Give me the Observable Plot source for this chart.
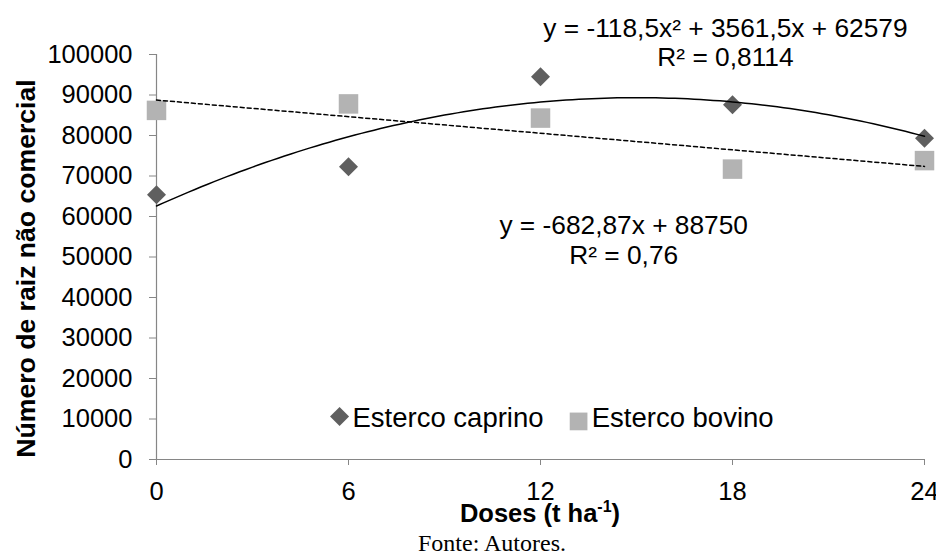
<!DOCTYPE html>
<html><head><meta charset="utf-8">
<script src="https://cdn.jsdelivr.net/npm/d3@7"></script>
<script src="https://cdn.jsdelivr.net/npm/@observablehq/plot@0.6"></script>
<style>
body{margin:0;background:#fff;}
#caption{width:936px;height:30px;line-height:30px;font-family:"Liberation Serif","Times New Roman",serif;font-size:24px;text-align:center;padding-left:48px;box-sizing:border-box;color:#000;}
</style></head><body>
<div id="chart"></div>
<div id="caption">Fonte: Autores.</div>
<script>
const doses = [0, 6, 12, 18, 24];
const caprino = [65400, 72300, 94500, 87600, 79300];
const bovino = [86200, 87800, 84300, 71700, 73800];
const seriesNames = ["Esterco caprino", "Esterco bovino"];
const seriesColors = ["#5f5f5f", "#b3b3b3"];
const quadCoef = [-118.5, 3561.5, 62579];
const linCoef = [-682.87, 88750];
const quadLabel = ["y = -118,5x² + 3561,5x + 62579", "R² = 0,8114"];
const linLabel = ["y = -682,87x + 88750", "R² = 0,76"];
const xTicks = [0, 6, 12, 18, 24];
const yTicks = [0, 10000, 20000, 30000, 40000, 50000, 60000, 70000, 80000, 90000, 100000];
const yTitle = "Número de raiz não comercial";

const capData = doses.map((d, i) => ({x: d, y: caprino[i]}));
const bovData = doses.map((d, i) => ({x: d, y: bovino[i]}));
const quadX = d3.range(0, 24.001, 0.2);
const quadData = quadX.map(x => ({x, y: quadCoef[0] * x * x + quadCoef[1] * x + quadCoef[2]}));
const linData = [0, 24].map(x => ({x, y: linCoef[0] * x + linCoef[1]}));

const annotations = [
  {text: quadLabel[0], x: 17.78, y: 106400},
  {text: quadLabel[1], x: 17.78, y: 99260},
  {text: linLabel[0], x: 14.6, y: 57780},
  {text: linLabel[1], x: 14.6, y: 50370}
];

const axisColor = "#868686";
const plot = Plot.plot({
  width: 936, height: 528,
  marginLeft: 156, marginRight: 12, marginTop: 54, marginBottom: 69,
  style: {fontFamily: "'Liberation Sans', Arial, sans-serif", fontSize: "25.5px", color: "#000", background: "#fff", overflow: "visible"},
  x: {domain: [0, 24], ticks: xTicks, tickSize: 6, tickPadding: 16, tickFormat: d => String(d), label: null},
  y: {domain: [0, 100000], ticks: yTicks, tickSize: 7, tickPadding: 17, tickFormat: d => String(d), label: null},
  marks: [
    Plot.ruleX([0], {stroke: axisColor, strokeWidth: 1.2}),
    Plot.ruleY([0], {stroke: axisColor, strokeWidth: 1.2}),
    Plot.dot(capData, {x: "x", y: "y", symbol: "diamond2", r: 8.56, fill: seriesColors[0]}),
    Plot.dot(bovData, {x: "x", y: "y", symbol: "square", r: 11, fill: seriesColors[1]}),
    Plot.line(quadData, {x: "x", y: "y", stroke: "#000", strokeWidth: 1.5, curve: "linear"}),
    Plot.line(linData, {x: "x", y: "y", stroke: "#000", strokeWidth: 1.5, strokeDasharray: "4,3"}),
    Plot.text(annotations, {x: "x", y: "y", text: "text", fontSize: 26.3, fill: "#000"}),
    // legend
    Plot.dot([seriesNames[0]], {x: 5.72, y: 10600, symbol: "diamond2", r: 8.56, fill: seriesColors[0]}),
    Plot.dot([seriesNames[1]], {x: 13.19, y: 9400, symbol: "square", r: 10, fill: seriesColors[1]}),
    Plot.text([seriesNames[0]], {x: 6.125, y: 10100, text: d => d, textAnchor: "start", fontSize: 27.5, fill: "#000"}),
    Plot.text([seriesNames[1]], {x: 13.6, y: 10100, text: d => d, textAnchor: "start", fontSize: 27.5, fill: "#000"}),
    // y title
    Plot.text([yTitle], {x: -4.06, y: 47160, text: d => d, rotate: -90, fontSize: 26.6, fontWeight: "bold", fill: "#000"})
  ]
});

// axis tick colors
plot.querySelectorAll('[aria-label$="-axis tick"]').forEach(g => {
  g.setAttribute("stroke", axisColor);
  g.querySelectorAll("path,line").forEach(p => p.setAttribute("stroke", axisColor));
});
plot.querySelectorAll('g.tick line').forEach(l => l.setAttribute("stroke", axisColor));

// x title with superscript
const sx = plot.scale("x"), sy = plot.scale("y");
const svg = d3.select(plot);
const t = svg.append("text")
  .attr("x", sx.apply(12)).attr("y", sy.apply(0) + 63)
  .attr("text-anchor", "middle").attr("font-weight", "bold").attr("font-size", 25.5).attr("fill", "#000")
  .attr("font-family", "'Liberation Sans', Arial, sans-serif");
t.append("tspan").text("Doses (t ha");
t.append("tspan").attr("font-size", 16).attr("dy", -10).text("-1");
t.append("tspan").attr("dy", 10).text(")");

document.getElementById("chart").appendChild(plot);
</script>
</body></html>
